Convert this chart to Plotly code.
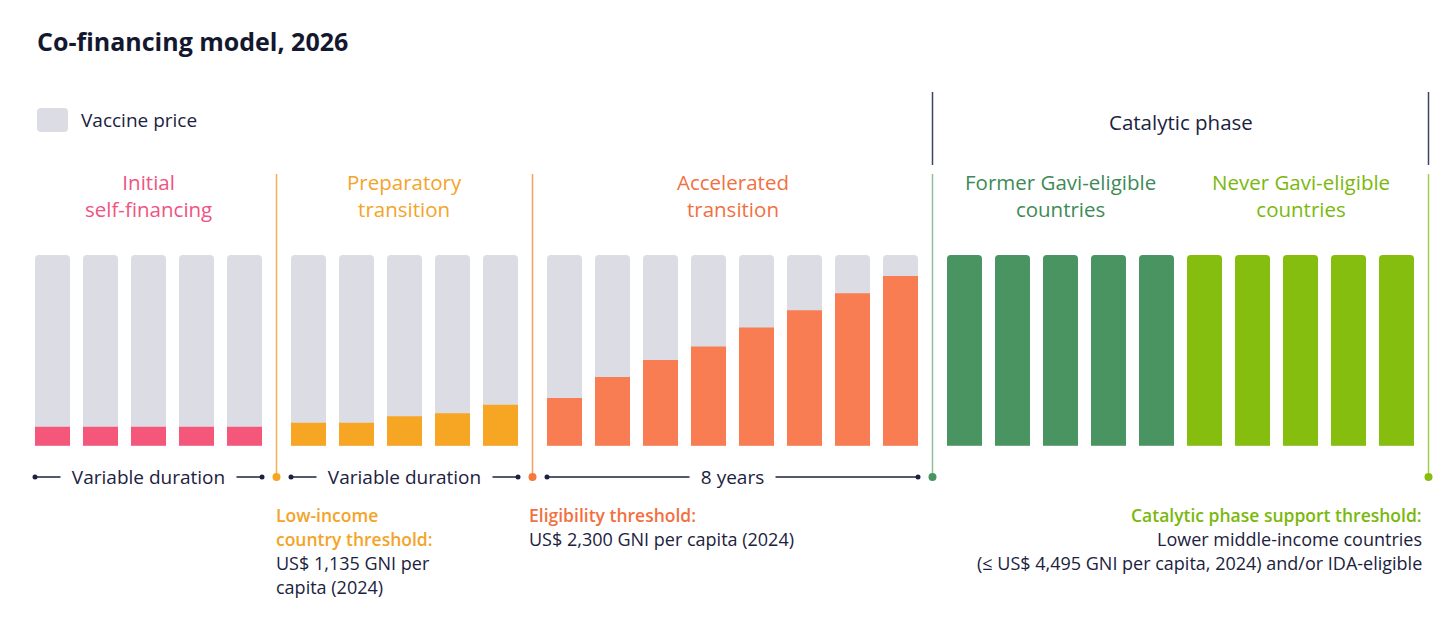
import plotly.graph_objects as go

# the page body adds an 8 px margin, so the figure is drawn 8 px in from the corner
OFF = 8
W, H = 1456 - 2 * OFF, 634 - 2 * OFF
FONT = "'Open Sans', Lato, sans-serif"
NAVY = "#1B2240"

# share of the vaccine price paid by the country (%)
initial = [10, 10, 10, 10, 10]
preparatory = [12, 12, 15.5, 17, 21.5]
accelerated = [25, 36, 45, 52, 62, 71, 80, 89]
former_gavi = [100, 100, 100, 100, 100]
never_gavi = [100, 100, 100, 100, 100]
vaccine_price = 100

group_values = [initial, preparatory, accelerated, former_gavi, never_gavi]
group_labels = [
    "Initial<br>self-financing",
    "Preparatory<br>transition",
    "Accelerated<br>transition",
    "Former Gavi-eligible<br>countries",
    "Never Gavi-eligible<br>countries",
]
bar_colors = ["#F5577B", "#F6A623", "#F87D52", "#4A9462", "#85BE0E"]
label_colors = ["#EF5482", "#F3A42A", "#F2703F", "#3E8A57", "#7AB80C"]
# a phase divider follows every group except between the two catalytic groups
gap_after = [True, True, True, False, True]
durations = ["Variable duration", "Variable duration", "8 years"]

# layout constants (pixels of the screenshot)
PITCH = 48.0
BW = 35 / PITCH
GAP = 1 / 3
FIRST_PX = 52.5 - OFF
Y0_PX, Y100_PX = 445.7 - OFF, 255.0 - OFF
UNIT = (Y0_PX - Y100_PX) / 100


def px(x):
    return (x - OFF) / W


def py(y):
    return 1 - (y - OFF) / H


# bar positions along the x axis, one slot per bar plus a small gap at each divider
xs = []
pos = 0.0
for vals, gap in zip(group_values, gap_after):
    xs.append([pos + i for i in range(len(vals))])
    pos += len(vals) + (GAP if gap else 0)

all_x = [x for g in xs for x in g]

fig = go.Figure()

fig.add_trace(
    go.Bar(
        x=all_x,
        y=[vaccine_price] * len(all_x),
        width=BW,
        marker=dict(color="#DCDCE5", cornerradius=4, line=dict(width=0)),
        hoverinfo="skip",
        showlegend=False,
    )
)
for gx, vals, col in zip(xs, group_values, bar_colors):
    fig.add_trace(
        go.Bar(
            x=gx,
            y=vals,
            width=BW,
            marker=dict(color=col, cornerradius=4, line=dict(width=0)),
            showlegend=False,
        )
    )

shapes = []
ann = []

# dividers between phases
div_x = [(xs[g][-1] + xs[g + 1][0]) / 2 for g in range(3)] + [xs[4][-1] + (1 + GAP) / 2]
div_line_colors = ["#F5B151", "#F4A05F", "#8DBF9A", "#A3CD4B"]
div_dot_colors = ["#F5A623", "#F47A3C", "#4A9462", "#86BD0F"]
for xd, lc, dc in zip(div_x, div_line_colors, div_dot_colors):
    shapes.append(dict(type="line", xref="x", yref="paper", x0=xd, x1=xd,
                       y0=py(174), y1=py(477), line=dict(color=lc, width=1.5)))
    shapes.append(dict(type="circle", xref="x", yref="paper", xsizemode="pixel",
                       ysizemode="pixel", xanchor=xd, yanchor=py(477),
                       x0=-4, x1=4, y0=-4, y1=4, fillcolor=dc, line=dict(width=0)))

# catalytic phase bracket
for xd in div_x[2:]:
    shapes.append(dict(type="line", xref="x", yref="paper", x0=xd, x1=xd,
                       y0=py(92), y1=py(165), line=dict(color="#3A4460", width=1.5)))

# duration brackets under the first three groups
for g, txt in enumerate(durations):
    left = xs[g][0] - BW / 2
    right = xs[g][-1] + BW / 2
    shapes.append(dict(type="line", xref="x", yref="paper", x0=left, x1=right,
                       y0=py(477), y1=py(477), line=dict(color=NAVY, width=1.5)))
    for xe in (left, right):
        shapes.append(dict(type="circle", xref="x", yref="paper", xsizemode="pixel",
                           ysizemode="pixel", xanchor=xe, yanchor=py(477),
                           x0=-2.5, x1=2.5, y0=-2.5, y1=2.5, fillcolor=NAVY,
                           line=dict(width=0)))
    ann.append(dict(x=(left + right) / 2, y=py(477), xref="x", yref="paper",
                    text="&nbsp;&nbsp;" + txt + "&nbsp;&nbsp;", showarrow=False,
                    bgcolor="white", borderpad=1,
                    font=dict(size=19, color=NAVY), xanchor="center", yanchor="middle"))

# group labels
for gx, lab, col in zip(xs, group_labels, label_colors):
    ann.append(dict(x=(gx[0] + gx[-1]) / 2, y=py(196), xref="x", yref="paper",
                    text=lab, showarrow=False, font=dict(size=20.5, color=col),
                    xanchor="center", yanchor="middle"))

ann.append(dict(x=(div_x[2] + div_x[3]) / 2, y=py(122), xref="x", yref="paper",
                text="Catalytic phase", showarrow=False,
                font=dict(size=20.5, color=NAVY), xanchor="center", yanchor="middle"))

# title and legend
ann.append(dict(x=px(35), y=py(41), xref="paper", yref="paper",
                text="<b>Co-financing model, 2026</b>", showarrow=False,
                font=dict(size=25, color="#14182F"), xanchor="left", yanchor="middle"))
ann.append(dict(x=px(79), y=py(120), xref="paper", yref="paper",
                text="Vaccine price", showarrow=False,
                font=dict(size=19, color=NAVY), xanchor="left", yanchor="middle"))


def rounded_rect(x0, y0, x1, y1, r):
    X0, X1 = px(x0), px(x1)
    Y0, Y1 = py(y0), py(y1)
    rx, ry = r / W, r / H
    return (f"M {X0 + rx},{Y0} L {X1 - rx},{Y0} Q {X1},{Y0} {X1},{Y0 - ry} "
            f"L {X1},{Y1 + ry} Q {X1},{Y1} {X1 - rx},{Y1} L {X0 + rx},{Y1} "
            f"Q {X0},{Y1} {X0},{Y1 + ry} L {X0},{Y0 - ry} Q {X0},{Y0} {X0 + rx},{Y0} Z")


shapes.append(dict(type="path", xref="paper", yref="paper",
                   path=rounded_rect(37, 108, 68, 132, 4),
                   fillcolor="#DCDCE5", line=dict(width=0)))

# threshold notes
notes = [
    (274, "left", [("Low-income", "#F3A42A", True),
                   ("country threshold:", "#F3A42A", True),
                   ("US$ 1,135 GNI per", NAVY, False),
                   ("capita (2024)", NAVY, False)]),
    (527, "left", [("Eligibility threshold:", "#F2703F", True),
                   ("US$ 2,300 GNI per capita (2024)", NAVY, False)]),
    (1424, "right", [("Catalytic phase support threshold:", "#7AB80C", True),
                     ("Lower middle-income countries", NAVY, False),
                     ("(≤ US$ 4,495 GNI per capita, 2024) and/or IDA-eligible", NAVY, False)]),
]
for x0, side, lines in notes:
    for k, (txt, col, strong) in enumerate(lines):
        ann.append(dict(x=px(x0), y=py(515 + 24 * k), xref="paper", yref="paper",
                        text=txt, showarrow=False,
                        font=dict(size=17.5 if strong else 18, color=col,
                                  weight=600 if strong else 400),
                        xanchor=side, yanchor="middle"))

fig.update_layout(
    barmode="overlay",
    width=W,
    height=H,
    margin=dict(l=0, r=0, t=0, b=0),
    plot_bgcolor="white",
    paper_bgcolor="white",
    font=dict(family=FONT, color=NAVY),
    shapes=shapes,
    annotations=ann,
    showlegend=False,
)
fig.update_xaxes(visible=False, range=[-FIRST_PX / PITCH, (W - FIRST_PX) / PITCH],
                 fixedrange=True)
fig.update_yaxes(visible=False, range=[-(H - Y0_PX) / UNIT, Y0_PX / UNIT], fixedrange=True)

fig.write_html("out.html")
